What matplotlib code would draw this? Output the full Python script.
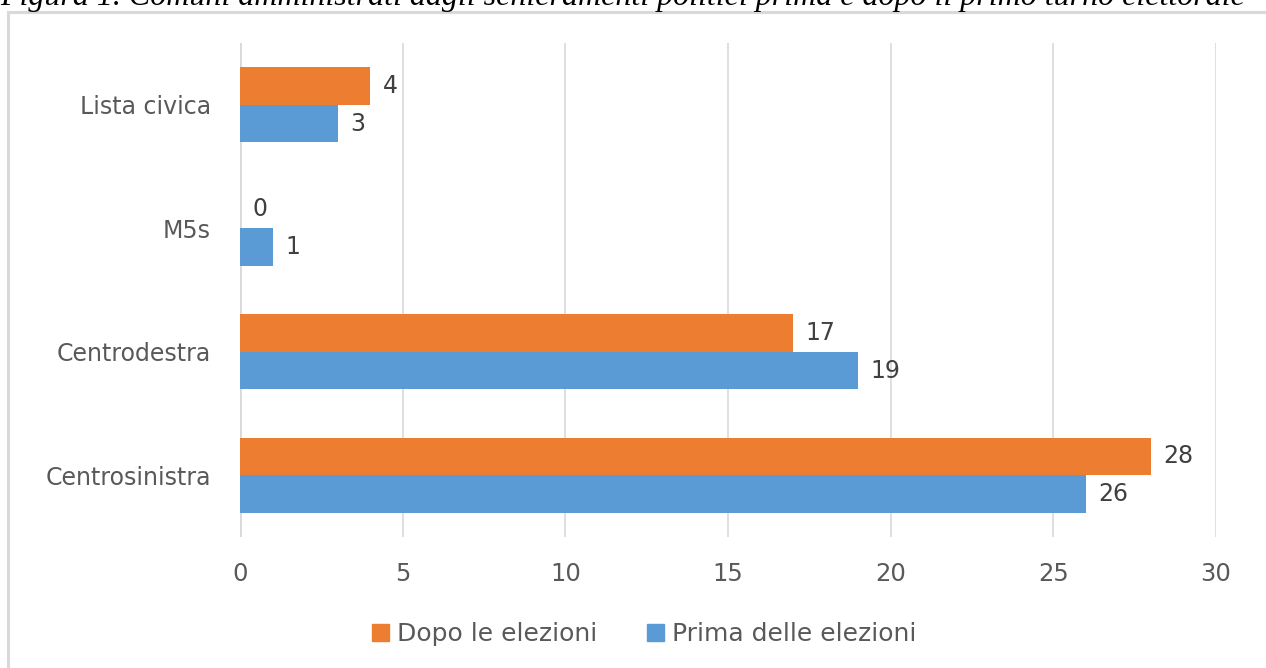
import numpy as np
from matplotlib import pyplot as plt
from matplotlib.patches import Rectangle, Patch

plt.rcParams["font.family"] = ["DejaVu Sans"]

categories = ["Centrosinistra", "Centrodestra", "M5s", "Lista civica"]
dopo = [28, 17, 0, 4]
prima = [26, 19, 1, 3]
series_names = ["Dopo le elezioni", "Prima delle elezioni"]
xticks = [0, 5, 10, 15, 20, 25, 30]

ORANGE = "#ED7D31"
BLUE = "#5B9BD5"
GRID = "#D9D9D9"
TICK = "#595959"
LABEL = "#404040"

W, H = 1266, 668
fig = plt.figure(figsize=(W / 100, H / 100), dpi=100)

# caption of the source document, cut off at the top
fig.text(0.0, 1 - 5 / H,
         "Figura 1. Comuni amministrati dagli schieramenti politici prima e dopo il primo turno elettorale",
         family="Liberation Serif", style="italic", fontsize=23, ha="left",
         va="baseline", color="black")

# chart frame
fig.patches.append(Rectangle((8 / W, -0.01), 1.2, 1 - 12 / H + 0.01,
                             transform=fig.transFigure, fill=False,
                             edgecolor=GRID, linewidth=2.2))

ax = fig.add_axes([240 / W, (H - 537) / H, 976 / W, 494 / H])

y = np.arange(len(categories))
h = 0.305
b_dopo = ax.barh(y + h / 2, dopo, height=h, color=ORANGE, zorder=3)
b_prima = ax.barh(y - h / 2, prima, height=h, color=BLUE, zorder=3)

for bars, vals in ((b_dopo, dopo), (b_prima, prima)):
    for bar, v in zip(bars, vals):
        ax.annotate(str(v), (bar.get_width(), bar.get_y() + bar.get_height() / 2),
                    xytext=(9, 0), textcoords="offset points", ha="left",
                    va="center", fontsize=17, color=LABEL)

ax.set_xlim(0, 30)
ax.set_ylim(-0.5, 3.5)
ax.set_xticks(xticks)
ax.set_yticks(y)
ax.set_yticklabels(categories)
ax.tick_params(axis="both", length=0, labelcolor=TICK)
ax.tick_params(axis="y", pad=21, labelsize=17)
ax.tick_params(axis="x", pad=18, labelsize=17.5)
ax.grid(axis="x", color=GRID, linewidth=1.2, zorder=0)
for s in ax.spines.values():
    s.set_visible(False)
ax.axvline(0, color=GRID, linewidth=2, zorder=2)

handles = [Patch(color=ORANGE), Patch(color=BLUE)]
fig.legend(handles, series_names, loc="center", bbox_to_anchor=(644 / W, 1 - 634 / H),
           ncol=2, frameon=False, fontsize=18, labelcolor=TICK,
           handlelength=0.7, handleheight=0.7, handletextpad=0.3, columnspacing=2.0)

fig.savefig("out.png", dpi=100)
